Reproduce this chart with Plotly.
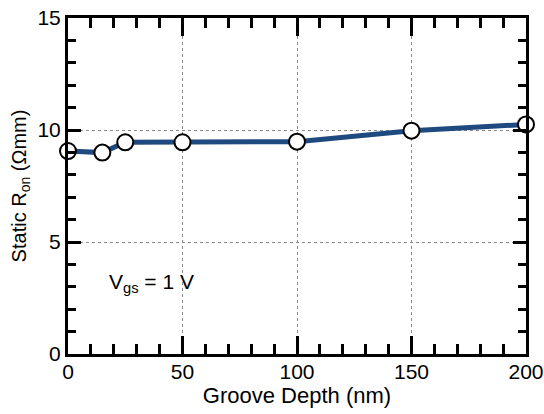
import plotly.graph_objects as go

depth = [0, 15, 25, 50, 100, 150, 200]
ron = [9.06, 8.99, 9.45, 9.45, 9.48, 9.97, 10.25]

FONT = "Liberation Sans, Arial, sans-serif"

fig = go.Figure()
fig.add_trace(go.Scatter(
    x=depth, y=ron, mode="lines+markers",
    line=dict(color="#1f4a80", width=5),
    marker=dict(size=16, color="white", line=dict(color="black", width=2)),
    cliponaxis=False, showlegend=False,
))

fig.add_annotation(x=17, y=3.15, xref="x", yref="y", text="V<sub>gs</sub> = 1 V",
                   showarrow=False, xanchor="left", yanchor="middle",
                   font=dict(family=FONT, size=21, color="black"))

fig.update_layout(
    width=544, height=414,
    margin=dict(l=68, r=18, t=18, b=60),
    paper_bgcolor="white", plot_bgcolor="white",
    font=dict(family=FONT, size=20, color="black"),
)
fig.update_xaxes(
    range=[0, 200], tickmode="linear", tick0=0, dtick=50,
    ticks="inside", ticklen=18, tickwidth=3, tickcolor="black",
    showline=True, linewidth=3, linecolor="black", mirror="ticks",
    showgrid=True, gridcolor="#8a8a8a", gridwidth=1, griddash="dot",
    minor=dict(dtick=10, ticks="inside", ticklen=10, tickwidth=3, tickcolor="black", showgrid=False),
    zeroline=False, automargin=False, ticklabelstandoff=-3,
    title=dict(text="Groove Depth (nm)", font=dict(size=22), standoff=6),
    tickfont=dict(size=21),
)
fig.update_yaxes(
    range=[0, 15], tickmode="linear", tick0=0, dtick=5,
    ticks="inside", ticklen=13, tickwidth=3, tickcolor="black",
    showline=True, linewidth=3, linecolor="black", mirror="ticks",
    showgrid=True, gridcolor="#8a8a8a", gridwidth=1, griddash="dot",
    minor=dict(dtick=1, ticks="inside", ticklen=8, tickwidth=3, tickcolor="black", showgrid=False),
    zeroline=False, automargin=False,
    title=dict(text="Static R<sub>on</sub> (\u03a9mm)", font=dict(size=20), standoff=6),
    tickfont=dict(size=21),
)

fig.write_html("out.html")
